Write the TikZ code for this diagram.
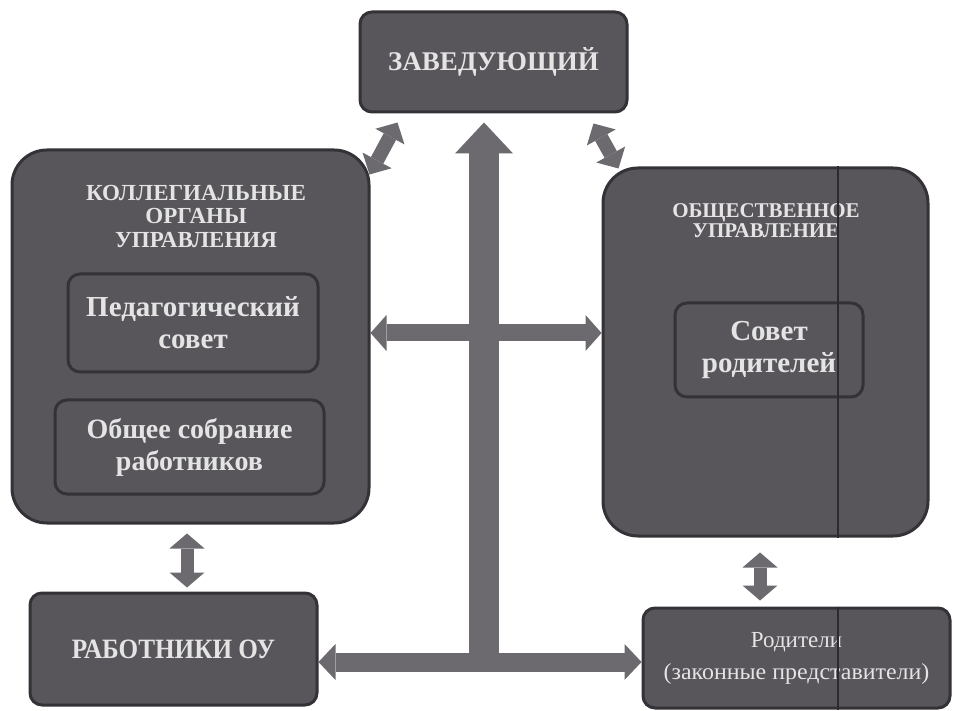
\documentclass[tikz,border=0pt]{standalone}
\usepackage{fontspec}
\setmainfont{Liberation Serif}
\usetikzlibrary{arrows.meta,calc}
\definecolor{boxfill}{HTML}{58555B}
\definecolor{boxline}{HTML}{343236}
\definecolor{arrowcol}{HTML}{6C6A6E}
\definecolor{txt}{HTML}{E4E4E4}
\definecolor{scanline}{HTML}{2C2A2E}
\tikzset{
  box/.style={draw=boxline, line width=3pt, fill=boxfill, rounded corners=#1,
    text=txt, align=center, inner sep=0pt},
  title/.style={text=txt, align=center, inner sep=0pt},
  blk/.style n args={3}{draw=arrowcol, line width=#1,
    >={Triangle[length=#2,width=#3,line width=0pt]}},
}
\begin{document}
\begin{tikzpicture}[x=1pt,y=-1pt]
\useasboundingbox (0,0) rectangle (954,711);
\fill[white] (0,0) rectangle (954,711);

% boxes
\node[box=12pt, minimum width=267pt, minimum height=100pt,
  font=\bfseries\fontsize{27}{30}\selectfont] (zav) at (493.5,62) {ЗАВЕДУЮЩИЙ};
\node[box=35pt, minimum width=357pt, minimum height=373pt] (lbox) at (190.5,336.5) {};
\node[box=35pt, minimum width=325pt, minimum height=368pt] (rbox) at (765.5,352) {};
\node[box=12pt, minimum width=250pt, minimum height=98pt,
  font=\bfseries\fontsize{29}{32}\selectfont] (ped) at (193,323) {Педагогический\\совет};
\node[box=12pt, minimum width=269pt, minimum height=94pt,
  font=\bfseries\fontsize{28}{32}\selectfont] (obsh) at (189.5,447) {Общее собрание\\работников};
\node[box=12pt, minimum width=188pt, minimum height=94pt,
  font=\bfseries\fontsize{29}{32}\selectfont] (sov) at (769,350) {Совет\\родителей};
\node[box=12pt, minimum width=287pt, minimum height=112pt,
  font=\bfseries\fontsize{28}{30}\selectfont] (rab) at (173.5,649) {\scalebox{0.9}[1]{РАБОТНИКИ ОУ}};
\node[box=12pt, minimum width=307pt, minimum height=100pt,
  font=\fontsize{23}{32}\selectfont] (rod) at (796.5,658) {\scalebox{1}[1]{Родители}\\\scalebox{1.04}[1]{(законные представители)}};

% titles
\node[title, anchor=north, font=\bfseries\fontsize{23}{23.5}\selectfont] (ltitle) at (196,185)
  {КОЛЛЕГИАЛЬНЫЕ\\ОРГАНЫ\\УПРАВЛЕНИЯ};
\node[title, anchor=north, font=\bfseries\fontsize{21}{20}\selectfont] (rtitle) at (766,203)
  {ОБЩЕСТВЕННОЕ\\УПРАВЛЕНИЕ};

% scan line
\draw[scanline, line width=2pt] (rbox.north -| 838,0) -- (rbox.south -| 838,0);
\draw[scanline, line width=2pt] (rod.north -| 838,0) -- (rod.south -| 838,0);

% junction coordinates
\coordinate (jn) at (484,662);
\coordinate (mid) at (484,333);
\coordinate (sa) at (187,0);
\coordinate (sb) at (760,0);

% arrows
\draw[blk={19pt}{17pt}{36pt}, <->] (rab.east |- jn) -- (rod.west |- jn);
\draw[blk={30pt}{31pt}{58pt}, ->, shorten >=9pt] (jn) -- (zav.south -| jn);
\draw[blk={17pt}{16pt}{36pt}, <->] (lbox.east |- mid) -- (rbox.west |- mid);
\draw[blk={13pt}{15pt}{35pt}, <->, shorten <=9pt, shorten >=4pt] (lbox.south -| sa) -- (rab.north -| sa);
\draw[blk={13pt}{15pt}{35pt}, <->, shorten <=15pt, shorten >=6pt] (rbox.south -| sb) -- (rod.north -| sb);
\draw[blk={14pt}{16pt}{33pt}, <->] ($(lbox.north east)+(-1,26)$) -- ($(zav.south west)+(39,9)$);
\draw[blk={14pt}{16pt}{33pt}, <->] ($(zav.south east)+(-35,10)$) -- ($(rbox.north west)+(17,2)$);
\end{tikzpicture}
\end{document}
